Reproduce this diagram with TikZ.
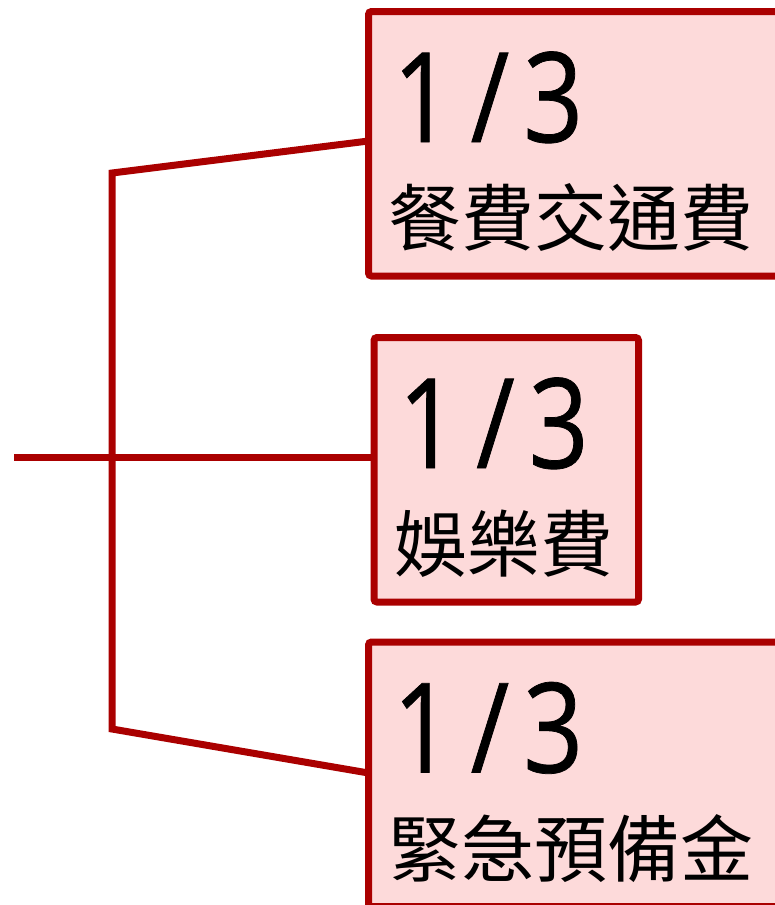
\documentclass[tikz,border=0pt]{standalone}
\usepackage{fontspec}
\setmainfont{Noto Sans CJK TC}
\newfontfamily\digitfont[FakeStretch=0.84,FakeBold=0.6]{Open Sans}
\usetikzlibrary{calc}

\definecolor{budgetred}{RGB}{170,0,0}
\definecolor{budgetpink}{RGB}{253,218,218}

\newcommand{\onethird}{1\kern18pt/\kern14pt3}

\tikzset{
  share/.style={rectangle, draw=budgetred, fill=budgetpink, line width=7pt,
    rounded corners=3pt, anchor=north west, inner sep=0pt, outer sep=0pt},
  frac/.style={anchor=base west, inner sep=0pt, font=\digitfont\fontsize{125}{125}\selectfont},
  item/.style={anchor=base west, inner sep=0pt, font=\fontsize{73}{73}\selectfont},
  branch/.style={draw=budgetred, line width=7pt}
}

\begin{document}
\begin{tikzpicture}[x=1pt,y=-1pt]
  \useasboundingbox (0,0) rectangle (775,905);

  \pgfmathsetmacro{\boxH}{264.5}
  \pgfmathsetmacro{\forkX}{112}

  % the three shares
  \node[share, minimum width=440pt, minimum height=\boxH pt] (meals) at (368.5,11.5) {};
  \node[share, minimum width=264.5pt, minimum height=\boxH pt] (fun) at (374,337.5) {};
  \node[share, minimum width=440pt, minimum height=\boxH pt] (reserve) at (368.5,642) {};

  \node[frac] (mealsFrac) at ($(meals.north west)+(24,130.5)$) {\onethird};
  \node[item] (mealsItem) at ($(meals.north west)+(20,234)$) {餐費交通費};
  \node[frac] (funFrac) at ($(fun.north west)+(24,130.5)$) {\onethird};
  \node[item] (funItem) at ($(fun.north west)+(20,234)$) {娛樂費};
  \node[frac] (reserveFrac) at ($(reserve.north west)+(24,130.5)$) {\onethird};
  \node[item] (reserveItem) at ($(reserve.north west)+(20,234)$) {緊急預備金};

  % fork
  \coordinate (root) at (14,457);
  \coordinate (forkTop) at (\forkX,173);
  \coordinate (forkBot) at (\forkX,729);
  \draw[branch] (root) -- (fun.west |- root);
  \draw[branch] ($(meals.north west)+(0,129.5)$) -- (forkTop) -- (forkBot)
    -- ($(reserve.north west)+(0,131)$);
\end{tikzpicture}
\end{document}
